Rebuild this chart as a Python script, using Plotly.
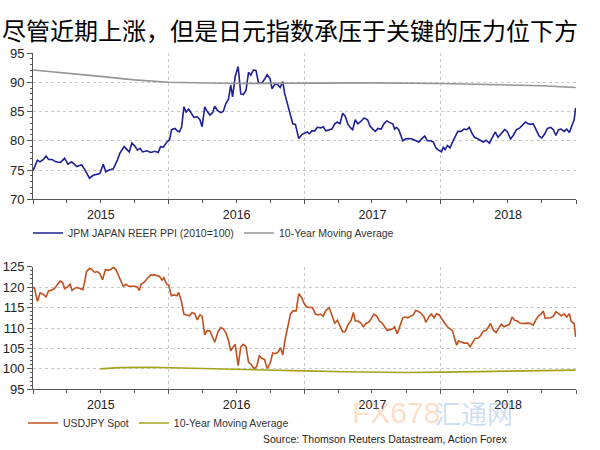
import plotly.graph_objects as go

# ---------------- data ----------------
title_text = "尽管近期上涨，但是日元指数承压于关键的压力位下方"
source_text = "Source: Thomson Reuters Datastream, Action Forex"

reer_dates = [
    "2015-01-01","2015-01-13","2015-01-20","2015-01-29","2015-02-05","2015-02-12","2015-02-21","2015-03-04",
    "2015-03-16","2015-03-27","2015-04-05","2015-04-15","2015-04-29","2015-05-12","2015-05-21","2015-06-02",
    "2015-06-12","2015-06-21","2015-06-30","2015-07-09","2015-07-16","2015-07-25","2015-08-05","2015-08-16",
    "2015-08-23","2015-09-03","2015-09-17","2015-09-24","2015-10-02","2015-10-09","2015-10-16","2015-10-23",
    "2015-11-03","2015-11-14","2015-11-25","2015-12-04","2015-12-10","2015-12-18","2015-12-27","2016-01-03",
    "2016-01-09","2016-01-18","2016-01-24","2016-01-30","2016-02-05","2016-02-11","2016-02-17","2016-02-24",
    "2016-03-02","2016-03-09","2016-03-18","2016-03-25","2016-03-31","2016-04-07","2016-04-14","2016-04-21",
    "2016-04-28","2016-05-04",
    "2016-05-11","2016-05-20","2016-05-27","2016-06-03","2016-06-10","2016-06-16","2016-06-21","2016-06-28",
    "2016-07-06","2016-07-13","2016-07-20","2016-07-27","2016-08-03","2016-08-09","2016-08-16","2016-08-23",
    "2016-08-30","2016-09-08","2016-09-15","2016-09-22","2016-09-30","2016-10-05","2016-10-12","2016-10-19",
    "2016-10-27","2016-11-03","2016-11-08","2016-11-15","2016-11-22","2016-11-30","2016-12-07","2016-12-16",
    "2016-12-25","2017-01-01","2017-01-08","2017-01-13","2017-01-21","2017-01-28","2017-02-04","2017-02-13",
    "2017-02-20","2017-02-27","2017-03-08","2017-03-15","2017-03-23","2017-03-30","2017-04-06","2017-04-13",
    "2017-04-20","2017-04-27","2017-05-03","2017-05-10","2017-05-17","2017-05-24","2017-06-01","2017-06-10",
    "2017-06-19","2017-06-26","2017-07-03","2017-07-10","2017-07-17","2017-07-26","2017-08-02","2017-08-10",
    "2017-08-18","2017-08-26","2017-08-31",
    "2017-09-05","2017-09-11","2017-09-22","2017-09-29","2017-10-08","2017-10-17","2017-10-26","2017-11-04",
    "2017-11-13","2017-11-20","2017-11-27","2017-12-06","2017-12-13","2017-12-20","2017-12-27","2018-01-04",
    "2018-01-09","2018-01-14","2018-01-20","2018-01-27","2018-02-03","2018-02-10","2018-02-17","2018-02-25",
    "2018-03-06","2018-03-13","2018-03-20","2018-03-27","2018-04-03","2018-04-10","2018-04-19","2018-04-27",
    "2018-05-04","2018-05-13","2018-05-22","2018-05-29","2018-06-05","2018-06-14","2018-06-23","2018-06-30",
    "2018-07-09","2018-07-16","2018-07-25","2018-08-03","2018-08-10","2018-08-18","2018-08-25","2018-09-01",
    "2018-09-08","2018-09-17","2018-09-24","2018-10-01","2018-10-09","2018-10-16","2018-10-25","2018-11-01",
    "2018-11-08","2018-11-15","2018-11-22","2018-11-30","2018-12-07","2018-12-14","2018-12-21","2018-12-27",
    "2018-12-31",
]
reer_values = [
    74.9,76.7,76.4,76.8,77.4,76.8,76.8,76.4,
    76.3,77.0,76.0,76.4,75.6,75.9,75.0,73.6,
    74.1,74.2,74.4,76.0,74.7,75.0,75.2,76.7,
    77.9,79.0,78.1,79.6,79.1,78.4,78.7,78.1,
    78.3,78.0,78.2,78.0,79.0,78.9,79.8,80.1,
    81.9,82.1,81.7,81.5,82.4,85.8,84.9,85.4,
    84.6,84.0,84.1,83.6,82.4,85.8,85.0,84.4,
    84.8,85.9,
    85.2,84.8,85.0,86.4,87.1,89.5,87.5,91.0,
    92.7,88.0,87.9,88.6,91.7,91.2,92.1,92.0,
    89.8,89.9,90.5,91.3,90.6,88.9,89.6,89.7,
    89.1,90.1,88.1,86.4,84.7,82.9,82.8,80.4,
    81.1,81.3,81.5,81.2,81.7,81.7,82.3,82.2,
    82.4,81.7,81.8,82.0,82.9,83.2,82.9,84.7,
    84.2,82.9,82.3,81.9,83.6,82.9,83.3,83.9,
    83.6,82.5,82.0,81.6,82.1,82.0,82.9,83.4,
    83.1,82.9,82.0,
    82.3,81.9,80.0,80.3,80.4,80.3,80.1,79.8,
    80.4,80.8,80.0,80.0,79.8,78.8,78.4,78.1,
    78.9,78.5,79.2,78.8,79.8,80.7,81.6,81.6,
    82.0,81.9,82.3,81.3,80.6,80.4,80.1,79.8,
    80.1,79.6,80.7,81.5,80.6,81.2,81.9,81.6,
    80.3,80.9,81.9,82.2,82.6,83.2,82.9,82.8,
    82.9,81.6,80.8,80.5,81.2,82.1,82.3,81.9,
    80.9,81.9,82.0,81.6,82.0,81.4,82.8,83.6,
    85.6,
]

reer_ma_dates = ["2015-01-01","2015-04-01","2015-07-01","2015-10-01","2016-01-01","2016-07-01",
                 "2017-01-01","2017-07-01","2018-01-01","2018-07-01","2018-10-01","2018-12-31"]
reer_ma_values = [92.1,91.6,91.0,90.4,90.0,89.8,89.85,89.9,89.8,89.6,89.4,89.1]

usd_dates = [
    "2015-01-01","2015-01-05","2015-01-13","2015-01-20","2015-01-29","2015-02-05","2015-02-12","2015-02-19",
    "2015-02-28","2015-03-07","2015-03-15","2015-03-22","2015-03-27","2015-04-03","2015-04-11","2015-04-16",
    "2015-04-23","2015-04-30","2015-05-07","2015-05-15","2015-05-20","2015-05-25","2015-06-02","2015-06-09",
    "2015-06-16","2015-06-23","2015-06-30","2015-07-07","2015-07-15","2015-07-22","2015-07-29","2015-08-05",
    "2015-08-12","2015-08-19","2015-08-27","2015-09-01","2015-09-08","2015-09-15","2015-09-23","2015-10-02",
    "2015-10-09","2015-10-14","2015-10-19","2015-10-28","2015-11-06","2015-11-14","2015-11-23","2015-11-30",
    "2015-12-07","2015-12-14","2015-12-19","2015-12-27","2016-01-01","2016-01-08","2016-01-15","2016-01-23",
    "2016-01-28","2016-02-04","2016-02-11","2016-02-18","2016-02-26","2016-03-04","2016-03-11","2016-03-18",
    "2016-03-25","2016-03-31","2016-04-07","2016-04-14","2016-04-21","2016-04-28","2016-05-04",
    "2016-05-13","2016-05-20","2016-05-27","2016-06-03","2016-06-10","2016-06-16","2016-06-21","2016-06-28",
    "2016-07-06","2016-07-13","2016-07-20","2016-07-27","2016-08-03","2016-08-10","2016-08-18","2016-08-25",
    "2016-09-01","2016-09-08","2016-09-15","2016-09-22","2016-09-30","2016-10-07","2016-10-14","2016-10-21",
    "2016-10-28","2016-11-03","2016-11-10","2016-11-17","2016-11-24","2016-12-01","2016-12-09","2016-12-16",
    "2016-12-23","2016-12-30","2017-01-06","2017-01-13","2017-01-22","2017-01-30","2017-02-06","2017-02-13",
    "2017-02-20","2017-02-27","2017-03-08","2017-03-15","2017-03-23","2017-03-30","2017-04-06","2017-04-13",
    "2017-04-20","2017-04-27","2017-05-06","2017-05-12","2017-05-17","2017-05-24","2017-06-01","2017-06-08",
    "2017-06-15","2017-06-22","2017-06-29","2017-07-06","2017-07-14","2017-07-21","2017-07-28","2017-08-04",
    "2017-08-11","2017-08-18","2017-08-26","2017-08-31",
    "2017-09-07","2017-09-14","2017-09-22","2017-09-29","2017-10-06","2017-10-13","2017-10-20","2017-10-27",
    "2017-11-04","2017-11-11","2017-11-18","2017-11-23","2017-12-01","2017-12-08","2017-12-15","2017-12-22",
    "2017-12-29","2018-01-05","2018-01-13","2018-01-20","2018-01-27","2018-02-03","2018-02-08","2018-02-14",
    "2018-02-19","2018-02-26","2018-03-06","2018-03-15","2018-03-22","2018-03-29","2018-04-05","2018-04-12",
    "2018-04-19","2018-04-27","2018-05-04","2018-05-11","2018-05-16","2018-05-24","2018-05-31","2018-06-07",
    "2018-06-14","2018-06-21","2018-06-28","2018-07-06","2018-07-13","2018-07-20","2018-07-27","2018-08-03",
    "2018-08-10","2018-08-18","2018-08-25","2018-09-01","2018-09-08","2018-09-15","2018-09-22","2018-09-30",
    "2018-10-05","2018-10-10","2018-10-18","2018-10-25","2018-11-01","2018-11-08","2018-11-15","2018-11-22",
    "2018-11-30","2018-12-07","2018-12-14","2018-12-19","2018-12-27","2018-12-31",
]
usd_values = [
    120.0,119.7,116.5,118.6,118.2,117.6,119.1,119.2,
    119.7,120.7,121.5,121.1,119.6,120.0,120.7,119.2,
    119.7,119.9,119.7,119.4,121.3,123.8,124.6,124.3,
    123.6,123.8,123.3,121.8,124.3,124.1,124.3,124.9,
    124.3,122.8,120.9,120.2,120.7,120.2,120.2,120.2,
    120.0,119.2,120.7,121.3,122.3,123.0,123.0,122.8,
    122.7,121.7,122.3,120.7,120.5,117.9,118.1,117.9,
    118.7,116.6,113.4,113.2,113.0,113.8,113.5,112.0,
    113.2,112.9,108.3,109.4,109.3,107.8,106.5,
    109.1,110.1,109.8,108.8,107.0,104.4,105.2,106.0,
    100.8,105.4,106.0,105.5,101.6,101.1,100.0,100.6,
    103.2,102.6,102.3,100.1,101.3,103.9,103.7,104.1,
    105.2,103.4,107.5,110.6,113.5,114.2,114.2,118.4,
    117.6,116.1,115.2,115.0,115.0,113.4,113.2,113.4,
    112.9,114.3,115.0,113.2,111.1,111.9,110.4,109.1,
    109.1,110.7,111.9,113.8,111.7,111.7,111.2,110.3,
    111.1,111.4,112.2,113.4,112.9,111.7,111.2,110.3,
    109.4,109.6,109.8,110.3,
    108.6,110.4,112.5,112.7,112.5,112.9,113.2,114.3,
    114.0,113.5,112.7,111.4,112.7,113.4,112.5,113.5,
    113.2,112.2,111.2,110.3,109.8,109.3,107.5,105.8,
    106.8,106.5,106.3,106.3,105.4,106.5,107.5,107.5,
    108.1,109.3,109.4,110.3,111.1,109.4,108.9,109.9,
    110.9,110.3,110.6,110.9,112.7,111.9,111.7,111.2,
    111.1,111.2,111.2,111.1,110.7,112.0,113.0,113.5,
    114.2,112.4,112.4,112.5,112.9,114.0,113.5,113.0,
    113.4,112.7,113.5,111.6,111.1,107.8,
]

usd_ma_dates = ["2015-07-01","2015-08-20","2015-11-10","2016-05-01","2016-07-01","2016-10-15",
                "2017-01-01","2017-04-15","2017-08-01","2017-10-01","2018-01-15","2018-05-01",
                "2018-08-15","2018-12-31"]
usd_ma_values = [100.0,100.3,100.4,100.1,100.0,99.7,99.5,99.3,99.1,99.1,99.2,99.3,99.5,99.7]

year_ticks_start = "2015-01-01"
x_range = ["2015-01-01", "2019-01-01"]

# ---------------- styling ----------------
NAVY = "#1f1f96"
GRAY = "#959595"
RUST = "#c0501e"
OLIVE = "#a3a31e"
AXIS = "#555555"
GRID = "#c8c8c8"
FONT = "Liberation Sans, Arial, sans-serif"

fig = go.Figure()
fig.add_trace(go.Scatter(x=reer_dates, y=reer_values, mode="lines", name="JPM JAPAN REER PPI (2010=100)",
                         line=dict(color=NAVY, width=1.6), xaxis="x", yaxis="y", legend="legend"))
fig.add_trace(go.Scatter(x=reer_ma_dates, y=reer_ma_values, mode="lines", name="10-Year Moving Average",
                         line=dict(color=GRAY, width=1.6), xaxis="x", yaxis="y", legend="legend"))
fig.add_trace(go.Scatter(x=usd_dates, y=usd_values, mode="lines", name="USDJPY Spot",
                         line=dict(color=RUST, width=1.6), xaxis="x2", yaxis="y2", legend="legend2"))
fig.add_trace(go.Scatter(x=usd_ma_dates, y=usd_ma_values, mode="lines", name="10-Year Moving Average",
                         line=dict(color=OLIVE, width=1.6), xaxis="x2", yaxis="y2", legend="legend2"))

def xaxis_style(anchor):
    return dict(
        type="date", range=x_range, domain=[33/600, 576/600], anchor=anchor,
        tick0=year_ticks_start, dtick="M12", tickformat="%Y", ticklabelmode="period",
        ticks="outside", ticklen=4, tickcolor=AXIS,
        showline=True, linecolor=AXIS, linewidth=1,
        showgrid=True, gridcolor=GRID, griddash="dot", gridwidth=1,
        minor=dict(dtick="M3", tick0=year_ticks_start, ticks="outside", ticklen=3, tickcolor=AXIS, showgrid=False),
        tickfont=dict(family=FONT, size=12.5, color="#222222"),
        zeroline=False, fixedrange=True,
    )

def yaxis_style(anchor, rng, domain, vals):
    return dict(
        range=rng, domain=domain, anchor=anchor, tickmode="array", tickvals=vals,
        ticks="outside", ticklen=5, tickcolor=AXIS,
        showline=True, linecolor=AXIS, linewidth=1,
        showgrid=True, gridcolor=GRID, griddash="dot", gridwidth=1,
        minor=dict(dtick=1, ticks="outside", ticklen=2, tickcolor=AXIS, showgrid=False),
        tickfont=dict(family=FONT, size=13, color="#222222"),
        zeroline=False, fixedrange=True,
    )

reer_ticks = [70, 75, 80, 85, 90, 95]
usd_ticks = [95, 100, 105, 110, 115, 120, 125]

fig.update_layout(
    width=600, height=450,
    margin=dict(l=0, r=0, t=0, b=0, autoexpand=False),
    paper_bgcolor="white", plot_bgcolor="white",
    showlegend=True,
    xaxis=xaxis_style("y"),
    yaxis=yaxis_style("x", [69.999, 95.001], [1 - 199.3/450, 1 - 53/450], reer_ticks),
    xaxis2=xaxis_style("y2"),
    yaxis2=yaxis_style("x2", [94.999, 125.001], [1 - 389.3/450, 1 - 266.7/450], usd_ticks),
    legend=dict(orientation="h", x=28/600, y=1 - 233/450, xanchor="left", yanchor="middle",
                font=dict(family=FONT, size=10.5, color="#333333"), bgcolor="rgba(0,0,0,0)",
                entrywidth=166, entrywidthmode="pixels", itemwidth=30),
    legend2=dict(orientation="h", x=23/600, y=1 - 423/450, xanchor="left", yanchor="middle",
                 font=dict(family=FONT, size=10.5, color="#333333"), bgcolor="rgba(0,0,0,0)",
                 itemwidth=30),
    annotations=[
        dict(text=title_text, xref="paper", yref="paper", x=0, y=1 - 30/450, xanchor="left", yanchor="middle",
             showarrow=False, font=dict(family="Noto Sans CJK SC", size=24, color="#000000")),
        dict(text=source_text, xref="paper", yref="paper", x=509/600, y=1 - 439/450, xanchor="right",
             yanchor="middle", showarrow=False, font=dict(family=FONT, size=10.5, color="#222222")),
        dict(text="FX678", xref="paper", yref="paper", x=396/600, y=1 - 412/450, xanchor="center",
             yanchor="middle", showarrow=False,
             font=dict(family=FONT, size=30, color="rgba(245,160,100,0.35)")),
        dict(text="汇通网", xref="paper", yref="paper", x=474/600, y=1 - 412/450, xanchor="center",
             yanchor="middle", showarrow=False,
             font=dict(family="Noto Sans CJK SC", size=26, color="rgba(110,160,215,0.35)")),
    ],
)

fig.write_html("out.html")
